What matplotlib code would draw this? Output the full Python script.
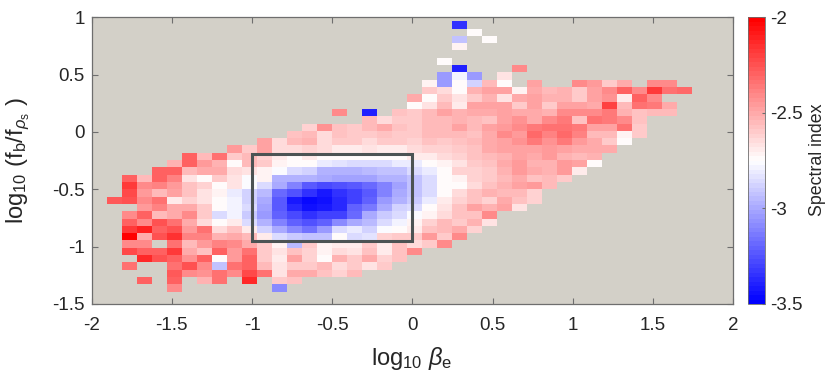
import numpy as np
import matplotlib
matplotlib.use("Agg")
import matplotlib.pyplot as plt
from matplotlib.colors import LinearSegmentedColormap
from matplotlib.patches import Rectangle

plt.rcParams['font.family'] = ['Liberation Sans', 'DejaVu Sans']
plt.rcParams['axes.unicode_minus'] = False
plt.rcParams['mathtext.fontset'] = 'custom'
plt.rcParams['mathtext.rm'] = 'Liberation Sans'
plt.rcParams['mathtext.it'] = 'Liberation Sans:italic'
plt.rcParams['mathtext.bf'] = 'Liberation Sans:bold'

N = float('nan')
x_ticks = [-2, -1.5, -1, -0.5, 0, 0.5, 1, 1.5, 2]
x_tick_labels = ['-2', '-1.5', '-1', '-0.5', '0', '0.5', '1', '1.5', '2']
y_ticks = [-1.5, -1, -0.5, 0, 0.5, 1]
y_tick_labels = ['-1.5', '-1', '-0.5', '0', '0.5', '1']
cbar_ticks = [-3.5, -3, -2.5, -2]
cbar_tick_labels = ['-3.5', '-3', '-2.5', '-2']
box_x = [-1, 0]
box_y = [-0.955, -0.19]

# first filled column of each row, top row first
row_starts = [24, 25, 24, 24, 0, 23, 24, 23, 22, 22, 21, 21, 16, 18, 14, 13, 11, 9, 6,
              5, 4, 2, 2, 2, 1, 3, 2, 2, 2, 2, 2, 2, 3, 2, 5, 3, 5]
r00 = [-3.35]
r01 = [-2.75]
r02 = [-2.93, N, -2.75]
r03 = [-2.72]
r04 = []
r05 = [-2.75]
r06 = [-3.4, N, N, N, -2.42]
r07 = [-3.05, -2.79, -3.05, N, -2.67]
r08 = [-2.71, -3.05, -2.75, -2.87, -2.55, -2.75, N, -2.48, N, N, -2.42, -2.45, -2.6, -2.5, N, -2.42, -2.42]
r09 = [-2.6, -2.65, -2.75, -2.53, -2.47, -2.47, -2.72, -2.5, -2.55, -2.52, -2.6, -2.47, -2.4, -2.3, -2.42, -2.17, -2.35, -2.32]
r10 = [-2.5, -2.75, -2.6, -2.66, -2.6, -2.52, -2.66, -2.5, -2.47, -2.53, -2.52, -2.6, -2.47, -2.43, -2.68, -2.3, -2.4]
r11 = [-2.75, -2.67, -2.56, -2.68, -2.47, -2.47, -2.47, -2.6, -2.47, -2.6, -2.47, -2.47, -2.5, -2.2, -2.55, -2.33, -2.37, -2.5]
r12 = [-2.42, N, -3.4, N, -2.58, -2.6, -2.55, -2.47, -2.52, -2.5, -2.5, -2.47, -2.5, -2.5, -2.52, -2.42, -2.42, -2.42, -2.37, -2.52, -2.58, -2.56, -2.55]
r13 = [-2.55, -2.64, -2.6, -2.6, -2.55, -2.56, -2.52, -2.54, -2.58, -2.47, -2.43, -2.5, -2.4, -2.37, -2.57, -2.35, -2.37, -2.42, -2.57]
r14 = [-2.63, -2.43, -2.57, -2.59, -2.56, -2.5, -2.57, -2.6, -2.55, -2.55, -2.48, -2.55, -2.48, -2.45, -2.4, -2.37, -2.35, -2.35, -2.37, -2.47, -2.47, -2.33, -2.6]
r15 = [-2.58, -2.55, -2.64, -2.58, -2.6, -2.6, -2.58, -2.6, -2.6, -2.56, -2.56, -2.55, -2.57, -2.5, -2.42, -2.45, -2.32, -2.38, -2.32, -2.38, -2.56, -2.55, -2.72, -2.6]
r16 = [-2.47, -2.65, -2.55, -2.53, -2.65, -2.6, -2.6, -2.65, -2.6, -2.6, -2.62, -2.58, -2.6, -2.58, -2.55, -2.5, -2.47, -2.43, -2.37, -2.43, -2.37, -2.45, -2.5, -2.6, -2.73]
r17 = [-2.45, -2.6, -2.47, -2.65, -2.65, -2.62, -2.65, -2.7, -2.7, -2.66, -2.7, -2.7, -2.65, -2.63, -2.62, -2.6, -2.58, -2.5, -2.47, -2.47, -2.47, -2.45, -2.48, -2.5, -2.5, -2.5]
r18 = [-2.3, -2.55, -2.35, -2.6, -2.55, -2.62, -2.7, -2.74, -2.68, -2.75, -2.75, -2.75, -2.75, -2.75, -2.75, -2.7, -2.7, -2.65, -2.62, -2.57, -2.55, -2.53, -2.47, -2.5, -2.46, -2.53, -2.55, -2.53]
r19 = [-2.52, -2.3, -2.45, -2.53, -2.75, -2.55, -2.6, -2.72, -2.75, -2.75, -2.8, -2.83, -2.85, -2.86, -2.85, -2.8, -2.82, -2.75, -2.72, -2.67, -2.6, -2.57, -2.5, -2.45, -2.53, -2.53, -2.45, -2.48, -2.74]
r20 = [-2.3, -2.3, -2.55, -2.5, -2.5, -2.65, -2.67, -2.72, -2.76, -2.85, -2.88, -2.97, -2.97, -2.98, -2.95, -2.93, -2.93, -2.86, -2.8, -2.75, -2.63, -2.63, -2.6, -2.52, -2.45, -2.5, -2.52, -2.45, -2.7]
r21 = [-2.3, -2.55, -2.3, -2.38, -2.67, -2.74, -2.6, -2.67, -2.76, -2.72, -2.97, -2.97, -2.97, -3.0, -3.02, -3.02, -3.03, -2.98, -2.98, -2.93, -2.85, -2.75, -2.72, -2.62, -2.6, -2.55, -2.5, -2.58, -2.55, -2.6]
r22 = [-2.18, -2.4, -2.38, -2.45, -2.57, -2.62, -2.75, -2.67, -2.76, -2.85, -3.0, -3.12, -3.24, -3.27, -3.26, -3.24, -3.18, -3.12, -3.03, -2.93, -2.85, -2.75, -2.73, -2.65, -2.57, -2.52, -2.48, -2.45, -2.55]
r23 = [-2.22, -2.45, -2.55, -2.47, -2.58, -2.67, -2.72, -2.82, -2.88, -2.95, -3.18, -3.25, -3.35, -3.41, -3.35, -3.3, -3.23, -3.12, -3.0, -2.93, -2.85, -2.73, -2.65, -2.58, -2.53, -2.55, -2.56, -2.63]
r24 = [-2.27, -2.25, -2.4, -2.35, -2.68, -2.62, -2.67, -2.73, -2.78, -2.88, -3.0, -3.22, -3.41, -3.47, -3.43, -3.37, -3.3, -3.2, -3.05, -2.98, -2.9, -2.82, -2.68, -2.62, -2.58, -2.62, -2.5, -2.58, -2.63]
r25 = [-2.45, -2.38, -2.5, -2.5, -2.6, -2.73, -2.78, -2.85, -3.03, -3.22, -3.38, -3.43, -3.42, -3.37, -3.2, -3.13, -3.0, -2.87, -2.85, -2.75, -2.66, -2.57, -2.47, -2.52, -2.47, -2.66]
r26 = [-2.42, -2.3, -2.55, -2.5, -2.42, -2.6, -2.85, -2.78, -2.9, -3.05, -3.2, -3.28, -3.35, -3.3, -3.3, -3.18, -3.0, -2.9, -2.85, -2.77, -2.72, -2.65, -2.58, -2.58, -2.42]
r27 = [-2.3, -2.42, -2.25, -2.35, -2.5, -2.65, -2.73, -2.7, -2.85, -2.98, -3.12, -3.2, -3.25, -3.2, -3.1, -3.0, -2.95, -2.85, -2.78, -2.72, -2.63, -2.55, -2.6, -2.52, -2.66]
r28 = [-2.18, -2.1, -2.3, -2.25, -2.45, -2.35, -2.65, -2.58, -2.7, -2.88, -3.0, -3.1, -3.15, -3.05, -2.85, -2.82, -2.88, -2.77, -2.75, -2.7, -2.58, -2.55, -2.5, -2.62]
r29 = [-2.0, -2.5, -2.25, -2.15, -2.38, -2.38, -2.52, -2.5, -2.55, -2.7, -2.85, -2.9, -2.93, -2.93, -2.75, -2.85, -2.83, -2.62, -2.6, -2.6, -2.45, -2.6, -2.42]
r30 = [-2.42, -2.42, N, -2.35, -2.55, -2.45, -2.38, -2.4, -2.5, -2.6, -2.72, -2.95, -2.6, -2.72, -2.68, -2.68, -2.6, -2.7, -2.58, -2.65, -2.6, -2.42]
r31 = [-2.22, -2.3, -2.3, -2.18, -2.5, -2.57, -2.3, -2.45, -2.33, -2.6, -2.67, -2.58, -2.62, -2.72, -2.65, -2.67, -2.57, -2.7, -2.58, -2.4]
r32 = [-2.12, -2.25, -2.3, -2.43, -2.3, -2.75, -2.45, -2.3, -2.6, -2.68, -2.47, -2.62, -2.75, -2.52, -2.6, -2.5, -2.63, -2.58]
r33 = [-2.35, N, N, -2.35, -2.25, -2.42, -2.92, -2.35, -2.3, -2.55, -2.66, -2.6, -2.6, -2.55, -2.65, -2.6, -2.67, -2.6]
r34 = [-2.27, -2.42, -2.43, -2.33, -2.42, -2.22, -2.35, -2.67, -2.5, -2.5, -2.58, -2.62, -2.55]
r35 = [-2.3, N, -2.3, N, -2.52, -2.35, N, -2.13, N, -2.6, -2.58]
r36 = [-2.42, N, N, N, N, N, N, -3.1]

rows = [r00, r01, r02, r03, r04, r05, r06, r07, r08, r09, r10, r11, r12, r13, r14, r15, r16, r17, r18,
        r19, r20, r21, r22, r23, r24, r25, r26, r27, r28, r29, r30, r31, r32, r33, r34, r35, r36]

n_cols = 40
grid = np.full((len(rows), n_cols), np.nan)
for i, (start, vals) in enumerate(zip(row_starts, rows)):
    if vals:
        grid[i, start:start + len(vals)] = vals

x_edges = -1.996 + 0.09346 * np.arange(n_cols + 1)
y_edges = 0.966 - 0.06373 * np.arange(len(rows) + 1)

W, H = 830, 377
fig = plt.figure(figsize=(W / 100, H / 100), dpi=100, facecolor='white')
ax = fig.add_axes([91.7 / W, 1 - 304 / H, (733 - 91.7) / W, (304 - 17.3) / H])
cax = fig.add_axes([748.4 / W, 1 - 304 / H, (765 - 748.4) / W, (304 - 17.3) / H])

cmap = LinearSegmentedColormap.from_list('rwb', ['#0000ff', '#ffffff', '#ff0000'], N=64)
ax.set_facecolor('#d3d0c8')
mesh = ax.pcolormesh(x_edges, y_edges, np.ma.masked_invalid(grid), cmap=cmap, vmin=-3.5, vmax=-2)
ax.add_patch(Rectangle((box_x[0], box_y[0]), box_x[1] - box_x[0], box_y[1] - box_y[0],
                       fill=False, ec='#4c5354', lw=2.2, zorder=5))
ax.set_xlim(-2, 2)
ax.set_ylim(-1.5, 1)

text_c = '#262626'
edge_c = '#6e6e6e'
ax.set_xticks(x_ticks, x_tick_labels)
ax.set_yticks(y_ticks, y_tick_labels)
ax.tick_params(axis='both', direction='in', length=4, width=0.8, color=edge_c, labelcolor=text_c, labelsize=13.5,
               top=True, right=True)
ax.tick_params(axis='x', pad=9)
ax.tick_params(axis='y', pad=5)
for s in ax.spines.values():
    s.set_color(edge_c)
    s.set_linewidth(0.9)
fig.text(412 / W, 1 - 358 / H, r'$\mathrm{log}_{10}\ \mathit{\beta}_{\mathrm{e}}$', fontsize=17,
         color=text_c, ha='center', va='center')
fig.text(18 / W, 1 - 161 / H, r'$\mathrm{log}_{10}\ (\mathrm{f_b/f}_{\mathit{\rho}_{\mathrm{s}}}\ )$', fontsize=17,
         color=text_c, ha='center', va='center', rotation=90)

cb = fig.colorbar(mesh, cax=cax)
cb.set_ticks(cbar_ticks, labels=cbar_tick_labels)
cb.ax.tick_params(direction='in', length=2.5, width=0.8, color=edge_c, labelcolor=text_c, labelsize=13.5, pad=4)
cb.outline.set_edgecolor(edge_c)
cb.outline.set_linewidth(0.6)
fig.text(817 / W, 1 - 160 / H, 'Spectral index', fontsize=12.8, color=text_c, rotation=90, ha='center', va='center')

fig.savefig('out.png', dpi=100)
